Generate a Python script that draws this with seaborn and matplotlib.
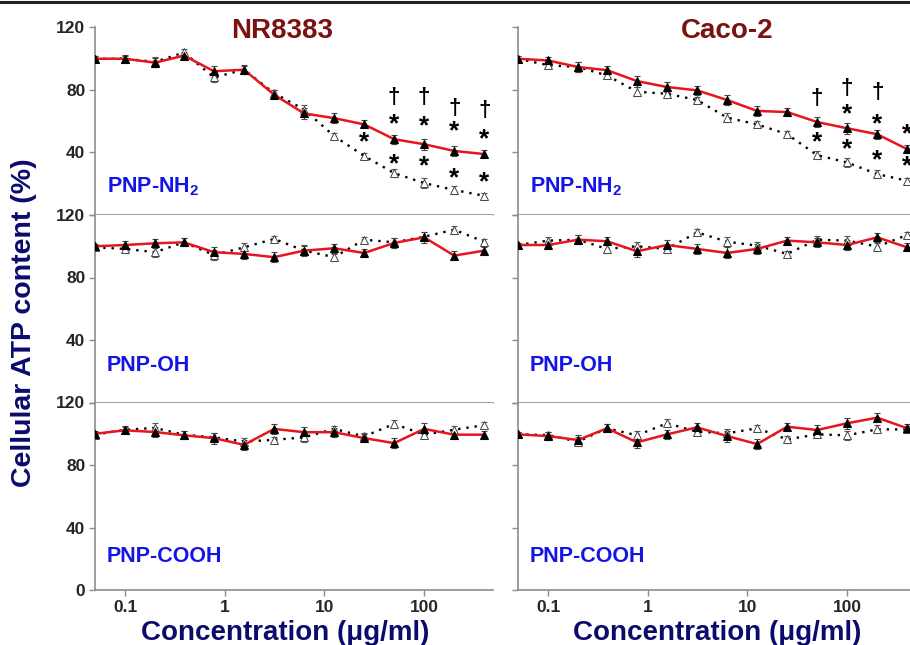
import numpy as np
import pandas as pd
import seaborn as sns
import matplotlib.pyplot as plt
from matplotlib.lines import Line2D

conc = [0.05, 0.1, 0.2, 0.39, 0.78, 1.56, 3.125, 6.25, 12.5, 25, 50, 100, 200, 400]

# NR8383
nr_nh2_solid = [100, 100, 97.5, 102, 92, 93, 77, 65, 62, 58, 48.5, 45.3, 41, 39]
nr_nh2_open = [100, 100, 98, 104, 88, 93, 78, 67.5, 50.5, 37.8, 26.8, 20.4, 16, 12.3]
nr_oh_solid = [100, 100.8, 101.9, 102.5, 96.2, 95.1, 93, 97.2, 98.7, 95.7, 102.1, 105.7, 94, 97.2]
nr_oh_open = [99.3, 98.3, 96.2, 102.5, 94.4, 99.3, 104.7, 97.2, 93, 104.2, 102.5, 106.1, 110.6, 102.9]
nr_cooh_solid = [100, 102.2, 101.1, 99, 97.2, 92.9, 103.1, 101, 101, 97.2, 94, 103.1, 99.4, 99.4]
nr_cooh_open = [99.4, 102.6, 103.7, 99.4, 97.7, 95, 96.1, 97.7, 103.1, 98.3, 106.3, 99.4, 102.6, 105.5]

# Caco-2
caco_nh2_solid = [100, 98.9, 94.7, 92.7, 85.7, 81.9, 79.8, 73.6, 66.6, 65.9, 59.5, 55.5, 51.7, 42.1]
caco_nh2_open = [100, 95.9, 94.7, 89.3, 78.9, 77.6, 73.6, 62.3, 58, 51.7, 38.3, 33.6, 26.2, 21.9]
caco_oh_solid = [100.8, 100.8, 104.2, 103.2, 96.8, 100.8, 98.3, 95.7, 98.3, 103.6, 102.5, 100.8, 105.7, 99.3]
caco_oh_open = [100.8, 103.6, 104.2, 98.3, 100, 98.3, 108.9, 102.9, 100.4, 95.1, 104.2, 103.6, 99.8, 107.2]
caco_cooh_solid = [99.6, 98.5, 96, 103.5, 94.5, 99.6, 104.1, 98.5, 93.4, 104.5, 102.4, 106.7, 110.3, 103.5]
caco_cooh_open = [99.6, 99.2, 94.9, 103.5, 99, 106.7, 101.3, 100.3, 103.5, 96.4, 99.6, 99, 102.8, 102.8]

# error bars
err_small = [1.5, 2, 3, 2.5, 3, 2.5, 2, 3, 2, 2, 2.5, 3, 2.5, 2]
err_large = [1.5, 2.5, 3, 2.5, 3.5, 3, 3, 3.5, 3, 2.5, 3, 3.5, 3, 2.5]

# significance marks: (concentration, value, symbol)
nr_marks = [(25, 49.8, '*'),
            (50, 75.1, '\u2020'), (50, 61.3, '*'), (50, 35.7, '*'),
            (100, 75.1, '\u2020'), (100, 60.2, '*'), (100, 34.7, '*'),
            (200, 68.1, '\u2020'), (200, 57, '*'), (200, 27.2, '*'),
            (400, 66.6, '\u2020'), (400, 51.7, '*'), (400, 24.5, '*')]
caco_marks = [(50, 74.5, '\u2020'), (50, 50, '*'),
              (100, 80.8, '\u2020'), (100, 68, '*'), (100, 45.7, '*'),
              (200, 78.3, '\u2020'), (200, 61.7, '*'), (200, 38.3, '*'),
              (400, 54.9, '*'), (400, 34.7, '*')]

cells = ['NR8383', 'Caco-2']
particles = [r'PNP-NH$_{\mathbf{2}}$', 'PNP-OH', 'PNP-COOH']
panels = {
    ('NR8383', 0): (nr_nh2_solid, nr_nh2_open),
    ('NR8383', 1): (nr_oh_solid, nr_oh_open),
    ('NR8383', 2): (nr_cooh_solid, nr_cooh_open),
    ('Caco-2', 0): (caco_nh2_solid, caco_nh2_open),
    ('Caco-2', 1): (caco_oh_solid, caco_oh_open),
    ('Caco-2', 2): (caco_cooh_solid, caco_cooh_open),
}

sns.set_style('ticks')
plt.rcParams['font.family'] = ['Liberation Sans', 'DejaVu Sans']
plt.rcParams['font.weight'] = 'bold'
plt.rcParams['mathtext.fontset'] = 'custom'
plt.rcParams['mathtext.rm'] = 'Liberation Sans:bold'
plt.rcParams['mathtext.bf'] = 'Liberation Sans:bold'

fig = plt.figure(figsize=(9.1, 6.45), dpi=100)

W, H = 910, 645
col_left = [95 / W, 518 / W]
col_w = 398 / W
panel_h = 187.5 / H
bottom0 = 1 - 590 / H
label_y = [0.12, 0.17, 0.15]
xlabel_x = [0.478, 0.5]
grey = '#8c8c8c'

for c, cell in enumerate(cells):
    for r in range(3):
        ax = fig.add_axes([col_left[c], bottom0 + (2 - r) * panel_h, col_w, panel_h])
        solid, opn = panels[(cell, r)]
        df = pd.DataFrame({'conc': conc, 'solid': solid, 'open': opn})

        ax.errorbar(conc, opn, yerr=err_small, fmt='none', ecolor='#555555',
                    elinewidth=0.8, capsize=2, capthick=0.8, zorder=2)
        ax.errorbar(conc, solid, yerr=err_large, fmt='none', ecolor='#444444',
                    elinewidth=0.8, capsize=2, capthick=0.8, zorder=2)
        sns.lineplot(data=df, x='conc', y='open', ax=ax, color='black',
                     linestyle=(0, (1, 2.5)), linewidth=1.7, marker='^',
                     markersize=5.5, markerfacecolor='white', markeredgecolor='#444444',
                     markeredgewidth=0.7, zorder=3)
        sns.lineplot(data=df, x='conc', y='solid', ax=ax, color='#e8141e',
                     linewidth=1.8, marker='^', markersize=5.5,
                     markerfacecolor='black', markeredgecolor='black', zorder=4)

        ax.set_xscale('log')
        ax.set_xlim(0.05, 490)
        ax.set_ylim(0, 120)
        ax.set_xticks([0.1, 1, 10, 100])
        ax.xaxis.set_minor_locator(plt.NullLocator())
        ax.set_yticks([0, 40, 80, 120])
        ax.tick_params(axis='both', direction='out', color=grey, length=4, width=1,
                       labelsize=12.5, pad=3)
        for s in ['top', 'right']:
            ax.spines[s].set_visible(False)
        for s in ['left', 'bottom']:
            ax.spines[s].set_color(grey)
            ax.spines[s].set_linewidth(1.2)

        if c == 0:
            ylabs = ['0', '40', '80', '120'] if r == 2 else ['', '40', '80', '120']
            ax.set_yticklabels(ylabs, fontweight='bold')
        else:
            ax.set_yticklabels([])
        if r == 2:
            ax.set_xticklabels(['0.1', '1', '10', '100'], fontweight='bold')
            ax.set_xlabel('Concentration (\u03bcg/ml)', fontsize=20, fontweight='bold',
                          color='#0b0b6e', labelpad=4, x=xlabel_x[c])
        else:
            ax.set_xticklabels([])
            ax.set_xlabel('')
        ax.set_ylabel('')

        ax.text(0.03, label_y[r], particles[r], transform=ax.transAxes,
                fontsize=15.5, fontweight='bold', color='#1414e6', va='baseline')

        if r == 0:
            ax.text(0.47 if c == 0 else 0.525, 0.945, cell, transform=ax.transAxes,
                    ha='center', va='baseline', fontsize=20, fontweight='bold',
                    color='#7a1212')
            marks = nr_marks if c == 0 else caco_marks
            for x, y, sym in marks:
                if sym == '*':
                    ax.text(x, y - 3.5, sym, ha='center', va='center',
                            fontsize=19, color='black')
                else:
                    ax.text(x, y, sym, ha='center', va='center',
                            fontsize=16, color='black')

fig.text(24 / W, 0.5, 'Cellular ATP content (%)', rotation=90, ha='center',
         va='center', fontsize=20.5, fontweight='bold', color='#0b0b6e')
fig.add_artist(Line2D([0, 1], [1 - 1.5 / H, 1 - 1.5 / H], color='#222222', lw=2.2))

fig.savefig('out.png', dpi=100)
